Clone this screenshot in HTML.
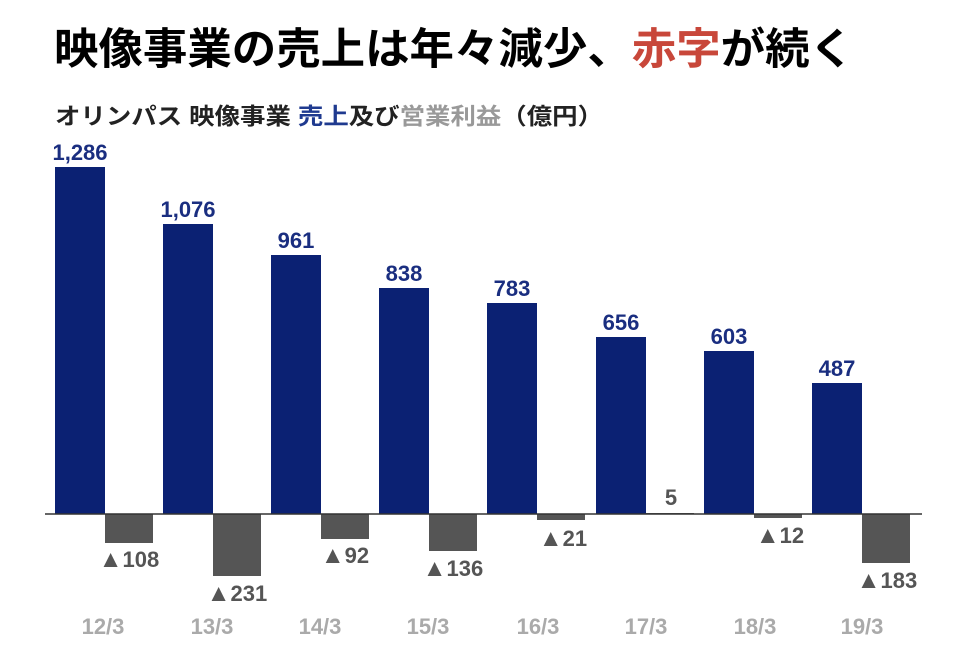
<!DOCTYPE html>
<html><head><meta charset="utf-8"><style>
body{margin:0;background:#fff;}
svg{display:block;font-family:"Liberation Sans","Noto Sans CJK JP",sans-serif;}
</style></head><body>
<svg width="960" height="667" viewBox="0 0 960 667">
<text x="54" y="64" font-size="43" font-weight="bold" fill="#000" textLength="800" lengthAdjust="spacingAndGlyphs">映像事業の売上は年々減少、<tspan fill="#c8473a">赤字</tspan>が続く</text>
<text x="55" y="124" font-size="23" font-weight="bold" fill="#222" textLength="548" lengthAdjust="spacingAndGlyphs">オリンパス 映像事業 <tspan fill="#1f3a8f">売上</tspan>及び<tspan fill="#999">営業利益</tspan>（億円）</text>
<g fill="#0b2173">
<rect x="55" y="167" width="50" height="347"/>
<rect x="163" y="224" width="50" height="290"/>
<rect x="271" y="255" width="50" height="259"/>
<rect x="379" y="288" width="50" height="226"/>
<rect x="487" y="303" width="50" height="211"/>
<rect x="596" y="337" width="50" height="177"/>
<rect x="704" y="351" width="50" height="163"/>
<rect x="812" y="383" width="50" height="131"/>
</g>
<g fill="#555">
<rect x="105" y="514" width="48" height="29"/>
<rect x="213" y="514" width="48" height="62"/>
<rect x="321" y="514" width="48" height="25"/>
<rect x="429" y="514" width="48" height="37"/>
<rect x="537" y="514" width="48" height="6"/>
<rect x="646" y="513" width="48" height="1"/>
<rect x="754" y="514" width="48" height="4"/>
<rect x="862" y="514" width="48" height="49"/>
</g>
<line x1="45" y1="514" x2="922" y2="514" stroke="#333" stroke-width="1.5"/>
<g font-size="22" font-weight="bold" fill="#1a2e80" text-anchor="middle">
<text x="80" y="160">1,286</text>
<text x="188" y="217">1,076</text>
<text x="296" y="248">961</text>
<text x="404" y="281">838</text>
<text x="512" y="296">783</text>
<text x="621" y="330">656</text>
<text x="729" y="344">603</text>
<text x="837" y="376">487</text>
</g>
<g font-size="22" font-weight="bold" fill="#555" text-anchor="middle">
<text x="129" y="567"><tspan font-size="24">▲</tspan>108</text>
<text x="237" y="601"><tspan font-size="24">▲</tspan>231</text>
<text x="345" y="563"><tspan font-size="24">▲</tspan>92</text>
<text x="453" y="576"><tspan font-size="24">▲</tspan>136</text>
<text x="563" y="546"><tspan font-size="24">▲</tspan>21</text>
<text x="671" y="505">5</text>
<text x="780" y="543"><tspan font-size="24">▲</tspan>12</text>
<text x="887" y="588"><tspan font-size="24">▲</tspan>183</text>
</g>
<g font-size="22" font-weight="bold" fill="#aaa" text-anchor="middle">
<text x="103" y="634">12/3</text>
<text x="212" y="634">13/3</text>
<text x="320" y="634">14/3</text>
<text x="428" y="634">15/3</text>
<text x="538" y="634">16/3</text>
<text x="646" y="634">17/3</text>
<text x="755" y="634">18/3</text>
<text x="862" y="634">19/3</text>
</g>
</svg>
</body></html>
